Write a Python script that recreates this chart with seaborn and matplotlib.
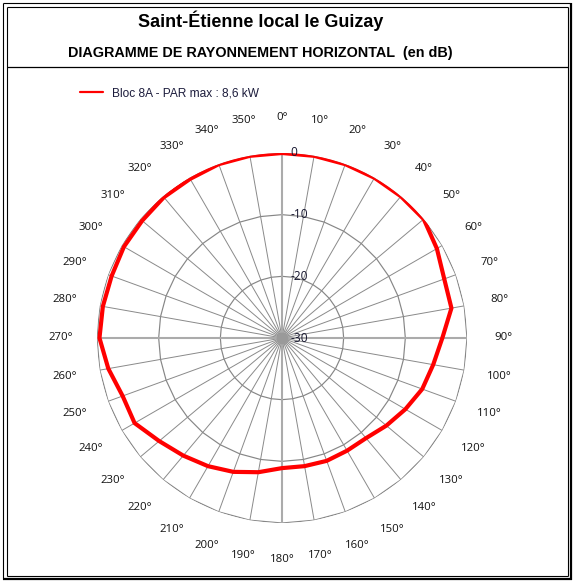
import numpy as np
import pandas as pd
import matplotlib
matplotlib.use("Agg")
import matplotlib.pyplot as plt
import seaborn as sns
from matplotlib.lines import Line2D

# ---------------- data ----------------
angles_deg = list(range(0, 360, 10))
level_db = [0, 0, 0, 0, 0, 0, -1.0, -2.0, -2.1, -4.0,
            -5.1, -5.8, -6.9, -7.9, -8.8, -8.9, -8.8, -8.9, -8.9, -7.9,
            -6.9, -6.0, -5.1, -4.0, -2.4, -2.5, -1.4, -0.4, -0.5, -0.6,
            -0.4, -0.4, -0.2, -0.2, 0, 0]
ring_levels = [-20, -10, 0]
radial_tick_values = [0, -10, -20, -30]
radial_tick_labels = ["0", "-10", "-20", "-30"]
angle_labels = [f"{a}°" for a in angles_deg]
series_name = "Bloc 8A - PAR max : 8,6 kW"
title = "Saint-Étienne local le Guizay"
subtitle = "DIAGRAMME DE RAYONNEMENT HORIZONTAL  (en dB)"

# ---------------- figure ----------------
sns.set_style("white")
plt.rcParams["font.family"] = ["Liberation Sans", "DejaVu Sans"]

W, H = 574, 583
fig = plt.figure(figsize=(W / 100, H / 100), dpi=100)
fig.patch.set_facecolor("white")

def fx(x):
    return x / W

def fy(y):
    return 1 - y / H

cx, cy, R = 282, 338, 185
ax = fig.add_axes([fx(cx - R), fy(cy + R), 2 * R / W, 2 * R / H], projection="polar")
ax.set_facecolor("none")
ax.set_theta_zero_location("N")
ax.set_theta_direction(-1)
ax.set_rlim(-30, 0)
ax.grid(False)
ax.set_xticks([])
ax.set_yticks([])
ax.spines["polar"].set_visible(False)

theta = np.deg2rad(angles_deg)
closed_theta = np.append(theta, theta[0])

# rings (polygonal, like the Excel radar)
for lv in ring_levels:
    ax.plot(closed_theta, [lv] * len(closed_theta), color="#868686", lw=0.85, zorder=1)

# spokes
for a, t in zip(angles_deg, theta):
    if a % 90 == 0:
        ax.plot([t, t], [-30, 0], color="#ababab", lw=1.5, zorder=1.5)
    else:
        ax.plot([t, t], [-30, 0], color="#8a8a8a", lw=0.7, zorder=1)
ax.plot([0], [-30], "o", ms=8.5, color="#9a9a9a", mec="none", zorder=2)

# data series
df = pd.DataFrame({"theta": np.append(theta, theta[0]),
                   "db": level_db + [level_db[0]]})
sns.lineplot(data=df, x="theta", y="db", sort=False, estimator=None, ax=ax,
             color="#ff0000", lw=3.0, label=series_name, zorder=3)
ax.set_xlabel("")
ax.set_ylabel("")
ax.set_rlim(-30, 0)

# radial tick labels
for v, lab in zip(radial_tick_values, radial_tick_labels):
    ax.annotate(lab, xy=(0, v), xytext=(6, 0), textcoords="offset points",
                ha="left", va="center", fontsize=8.6, family=["Open Sans", "DejaVu Sans"],
                color="#15152e", zorder=4)

# angle labels
r_lab = -30 + 221 * 30 / R
for t, lab in zip(theta, angle_labels):
    ax.text(t, r_lab, lab, ha="center", va="center", fontsize=8.2,
            family=["Open Sans", "DejaVu Sans"], color="#111111")

# legend
leg = ax.legend(loc="center left", bbox_to_anchor=(fx(80), fy(93)), bbox_transform=fig.transFigure,
                frameon=False, fontsize=8.6, handlelength=1.9, handletextpad=0.75,
                borderpad=0, borderaxespad=0, labelcolor="#1c1c3c")
for ln in leg.get_lines():
    ln.set_linewidth(1.6)

# titles
fig.text(fx(260.5), fy(27), title, ha="center", va="baseline", fontsize=13,
         fontweight="bold", color="black")
fig.text(fx(260), fy(56.5), subtitle, ha="center", va="baseline", fontsize=10.4,
         fontweight="bold", color="black")

# borders
def seg(x0, y0, x1, y1, lw):
    fig.add_artist(Line2D([fx(x0), fx(x1)], [fy(y0), fy(y1)], transform=fig.transFigure,
                          color="black", lw=lw, solid_capstyle="butt"))

# outer rectangle
seg(3, 3, 571, 3, 0.8)
seg(3, 3, 3, 579, 0.8)
seg(571, 2.5, 571, 579.5, 1.6)
seg(2.5, 579, 571.5, 579, 1.6)
# inner rectangle
seg(6.5, 6.5, 568, 6.5, 0.8)
seg(6.5, 6.5, 6.5, 576, 0.8)
seg(568, 6.5, 568, 576, 0.8)
seg(6.5, 576, 568, 576, 0.8)
# title separator
seg(6.5, 67, 568, 67, 0.9)

fig.savefig("out.png", dpi=100, facecolor="white")
